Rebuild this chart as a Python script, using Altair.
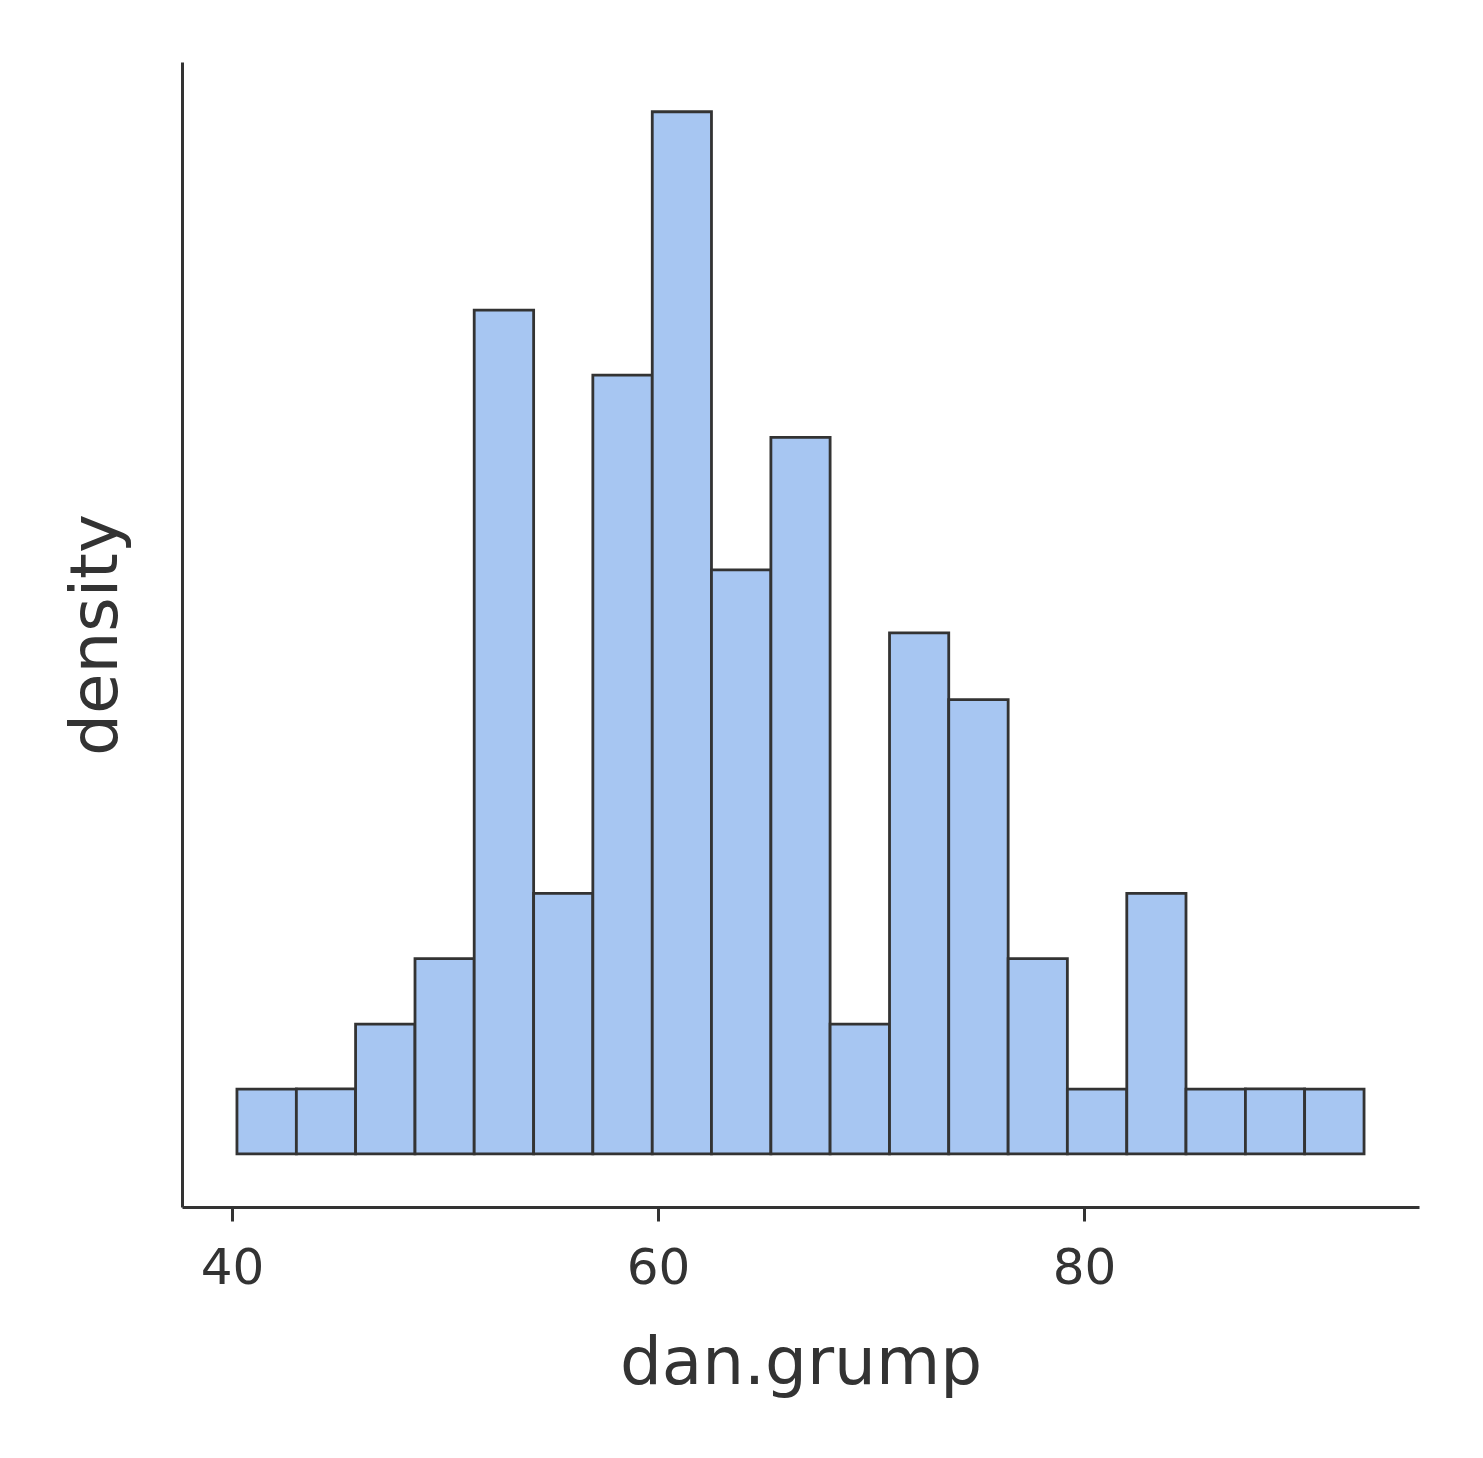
import altair as alt
import pandas as pd

bin_start = [40.23, 43.02, 45.80, 48.59, 51.37, 54.16, 56.94, 59.73, 62.51, 65.30,
             68.08, 70.87, 73.65, 76.44, 79.22, 82.01, 84.79, 87.58, 90.36]
bin_end = [43.02, 45.80, 48.59, 51.37, 54.16, 56.94, 59.73, 62.51, 65.30, 68.08,
           70.87, 73.65, 76.44, 79.22, 82.01, 84.79, 87.58, 90.36, 93.15]
counts = [1, 1, 2, 3, 13, 4, 12, 16, 9, 11, 2, 8, 7, 3, 1, 4, 1, 1, 1]
n_total = 100
x_ticks = [40, 60, 80]

df = pd.DataFrame({"start": bin_start, "end": bin_end, "count": counts})
df["density"] = df["count"] / (n_total * (df["end"] - df["start"]))

text_color = "#333333"

chart = alt.Chart(df).mark_rect(
    fill="#a7c6f2", stroke="#333333", strokeWidth=2.8
).encode(
    x=alt.X("start:Q",
            scale=alt.Scale(domain=[37.65, 95.73], nice=False, zero=False),
            axis=alt.Axis(values=x_ticks, title="dan.grump", grid=False,
                          tickSize=14, labelPadding=22, titlePadding=38, format="d")),
    x2="end:Q",
    y=alt.Y("density:Q",
            scale=alt.Scale(domain=[-0.00293, 0.0603], nice=False, zero=False),
            axis=alt.Axis(title="density", labels=False, ticks=False, grid=False,
                          titlePadding=52)),
    y2=alt.datum(0),
).properties(
    width=1237, height=1145,
    autosize=alt.AutoSizeParams(type="none"),
    padding={"left": 174, "top": 54, "right": 40, "bottom": 240},
).configure_view(stroke=None).configure_axis(
    domainColor=text_color, domainWidth=3, tickColor=text_color, tickWidth=3,
    labelColor=text_color, titleColor=text_color, labelFont="DejaVu Sans",
    titleFont="DejaVu Sans", labelFontSize=50, titleFontSize=66,
    titleFontWeight="normal",
)

chart.save("out.html", embed_options={"renderer": "svg", "actions": False})
